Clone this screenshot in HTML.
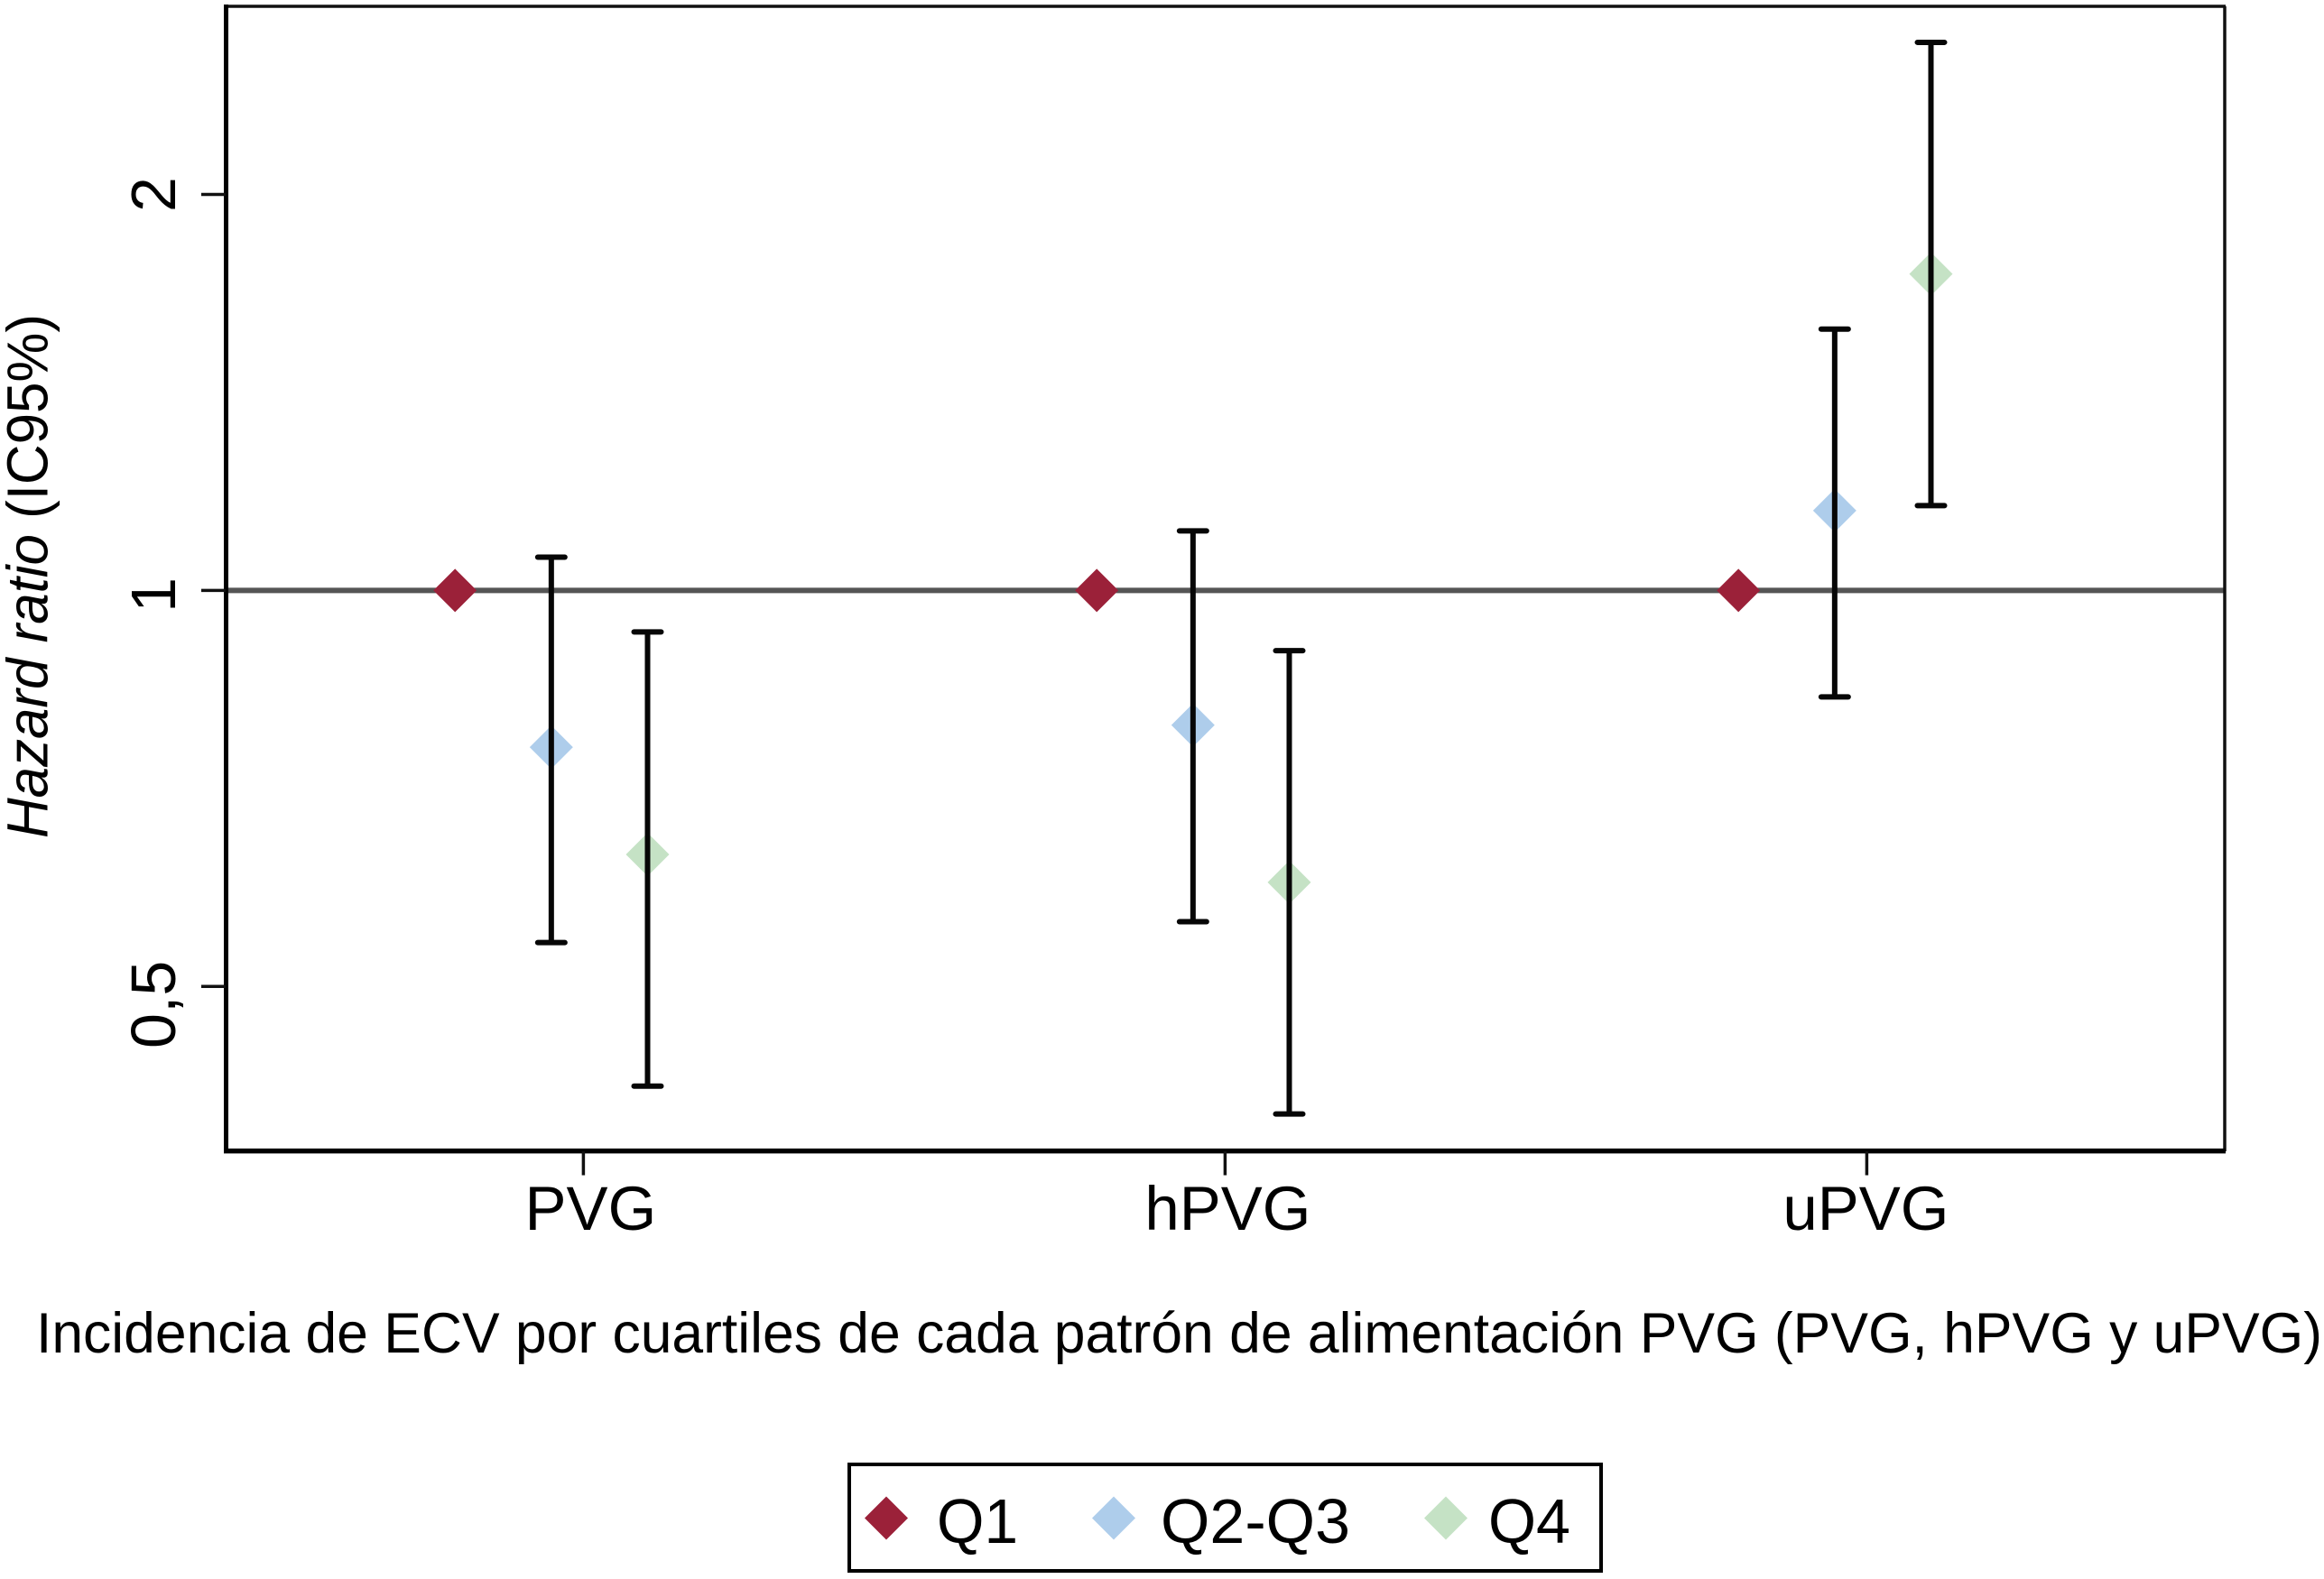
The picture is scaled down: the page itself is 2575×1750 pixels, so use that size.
<!DOCTYPE html>
<html lang="es">
<head>
<meta charset="utf-8">
<title>Hazard ratio por cuartiles</title>
<style>
html,body{margin:0;padding:0;background:#fff;}
svg{display:block;font-family:"Liberation Sans",Arial,sans-serif;fill:#000;}
</style>
</head>
<body>
<svg id="chart" xmlns="http://www.w3.org/2000/svg" width="2575" height="1750" viewBox="0 0 2575 1750">
  <rect x="0" y="0" width="2575" height="1750" fill="#ffffff"/>
  <g id="marks"></g>
  <g id="frame">
    <line x1="250" y1="7" x2="2466" y2="7" stroke="#111" stroke-width="3.5"/>
    <line x1="2465" y1="7" x2="2465" y2="1276" stroke="#111" stroke-width="3.5"/>
    <line x1="250.5" y1="5" x2="250.5" y2="1278" stroke="#000" stroke-width="5"/>
    <line x1="248" y1="1275.6" x2="2466" y2="1275.6" stroke="#000" stroke-width="5.5"/>
  </g>
  <g id="axes"></g>
  <text x="0" y="0" transform="translate(52.5 929) rotate(-90)" font-size="64" textLength="581" lengthAdjust="spacingAndGlyphs"><tspan font-style="italic">Hazard ratio</tspan> (IC95%)</text>
  <text x="40" y="1499" font-size="63" textLength="2533" lengthAdjust="spacingAndGlyphs">Incidencia de ECV por cuartiles de cada patrón de alimentación PVG (PVG, hPVG y uPVG)</text>
  <g id="legend">
    <rect x="941" y="1623" width="833" height="118" fill="#fff" stroke="#000" stroke-width="4"/>
    <polygon points="982,1658.5 1006,1682.5 982,1706.5 958,1682.5" fill="#9b2139"/>
    <text x="1038" y="1710" font-size="70" textLength="90" lengthAdjust="spacingAndGlyphs">Q1</text>
    <polygon points="1234,1658.5 1258,1682.5 1234,1706.5 1210,1682.5" fill="#aecdeb"/>
    <text x="1286" y="1710" font-size="70" textLength="210" lengthAdjust="spacingAndGlyphs">Q2-Q3</text>
    <polygon points="1602,1658.5 1626,1682.5 1602,1706.5 1578,1682.5" fill="#c5e2c5"/>
    <text x="1649" y="1710" font-size="70" textLength="91" lengthAdjust="spacingAndGlyphs">Q4</text>
  </g>
</svg>
<script>
// Chart data
const categories = ["PVG", "hPVG", "uPVG"];
const q1Values = [1, 1, 1];
const q23Values = [0.76, 0.79, 1.15];
const q23Lower = [0.54, 0.56, 0.83];
const q23Upper = [1.06, 1.11, 1.58];
const q4Values = [0.63, 0.60, 1.74];
const q4Lower = [0.42, 0.40, 1.16];
const q4Upper = [0.93, 0.90, 2.61];
const yTickValues = [0.5, 1, 2];
const yTickLabels = ["0,5", "1", "2"];
const referenceValue = 1;

const SVGNS = "http://www.w3.org/2000/svg";
const marks = document.getElementById("marks");
const axes = document.getElementById("axes");

// Axis functions (log2 y axis, categorical x axis)
function yScale(v) { return 654.4 - 438.9 * Math.log2(v); }
function xScale(catIndex, dodge) { return 646.4 + 711 * (catIndex + dodge); }

const dodgeQ1 = -0.2;
const dodgeQ23 = -0.05;
const dodgeQ4 = 0.1;
const capHalf = 15;
const diamondHalf = 24;
const tickLabelShift = { "0,5": 20, "1": 5, "2": 0 };
const catLabelShift = { "PVG": 8, "hPVG": 3, "uPVG": -1 };

function make(tag, attrs, parent) {
  const el = document.createElementNS(SVGNS, tag);
  for (const k in attrs) el.setAttribute(k, attrs[k]);
  parent.appendChild(el);
  return el;
}

function drawDiamond(cx, cy, fill, name) {
  const el = make("polygon", {
    points: cx + "," + (cy - diamondHalf) + " " + (cx + diamondHalf) + "," + cy + " " + cx + "," + (cy + diamondHalf) + " " + (cx - diamondHalf) + "," + cy,
    fill: fill
  }, marks);
  
  
}

function drawWhisker(cx, lo, hi, name) {
  const yLo = yScale(lo);
  const yHi = yScale(hi);
  const g = make("g", { stroke: "#060606", fill: "none" }, marks);
  
  
  make("line", { x1: cx, x2: cx, y1: yHi, y2: yLo, "stroke-width": 6 }, g);
  make("line", { x1: cx - capHalf, x2: cx + capHalf, y1: yHi, y2: yHi, "stroke-width": 6, "stroke-linecap": "round" }, g);
  make("line", { x1: cx - capHalf, x2: cx + capHalf, y1: yLo, y2: yLo, "stroke-width": 6, "stroke-linecap": "round" }, g);
}

// Reference line
const refLine = make("line", {
  x1: 252, x2: 2465, y1: yScale(referenceValue), y2: yScale(referenceValue),
  stroke: "#555555", "stroke-width": 6
}, marks);



// Series: diamonds drawn under the whiskers
categories.forEach(function (cat, i) {
  const key = cat.toLowerCase();
  drawDiamond(xScale(i, dodgeQ1), yScale(q1Values[i]), "#9b2139", "point-q1-" + key);
  drawDiamond(xScale(i, dodgeQ23), yScale(q23Values[i]), "#aecdeb", "point-q2-q3-" + key);
  drawDiamond(xScale(i, dodgeQ4), yScale(q4Values[i]), "#c5e2c5", "point-q4-" + key);
  drawWhisker(xScale(i, dodgeQ23), q23Lower[i], q23Upper[i], "ci-q2-q3-" + key);
  drawWhisker(xScale(i, dodgeQ4), q4Lower[i], q4Upper[i], "ci-q4-" + key);
});

// Y ticks and labels
yTickValues.forEach(function (v, i) {
  const y = yScale(v);
  const tick = make("line", { x1: 223, x2: 250, y1: y, y2: y, stroke: "#111", "stroke-width": 3.5 }, axes);
  
  
  const label = make("text", {
    transform: "translate(194 " + (y + (tickLabelShift[yTickLabels[i]] || 0)) + ") rotate(-90)",
    "text-anchor": "middle",
    "font-size": 70
  }, axes);
  label.textContent = yTickLabels[i];
  
  
});

// X ticks and labels
categories.forEach(function (cat, i) {
  const x = xScale(i, 0);
  const tick = make("line", { x1: x, x2: x, y1: 1276, y2: 1302.5, stroke: "#111", "stroke-width": 3.5 }, axes);
  
  
  const label = make("text", { x: x + (catLabelShift[cat] || 0), y: 1363, "text-anchor": "middle", "font-size": 69 }, axes);
  label.textContent = cat;
  
  
});
</script>
</body>
</html>
